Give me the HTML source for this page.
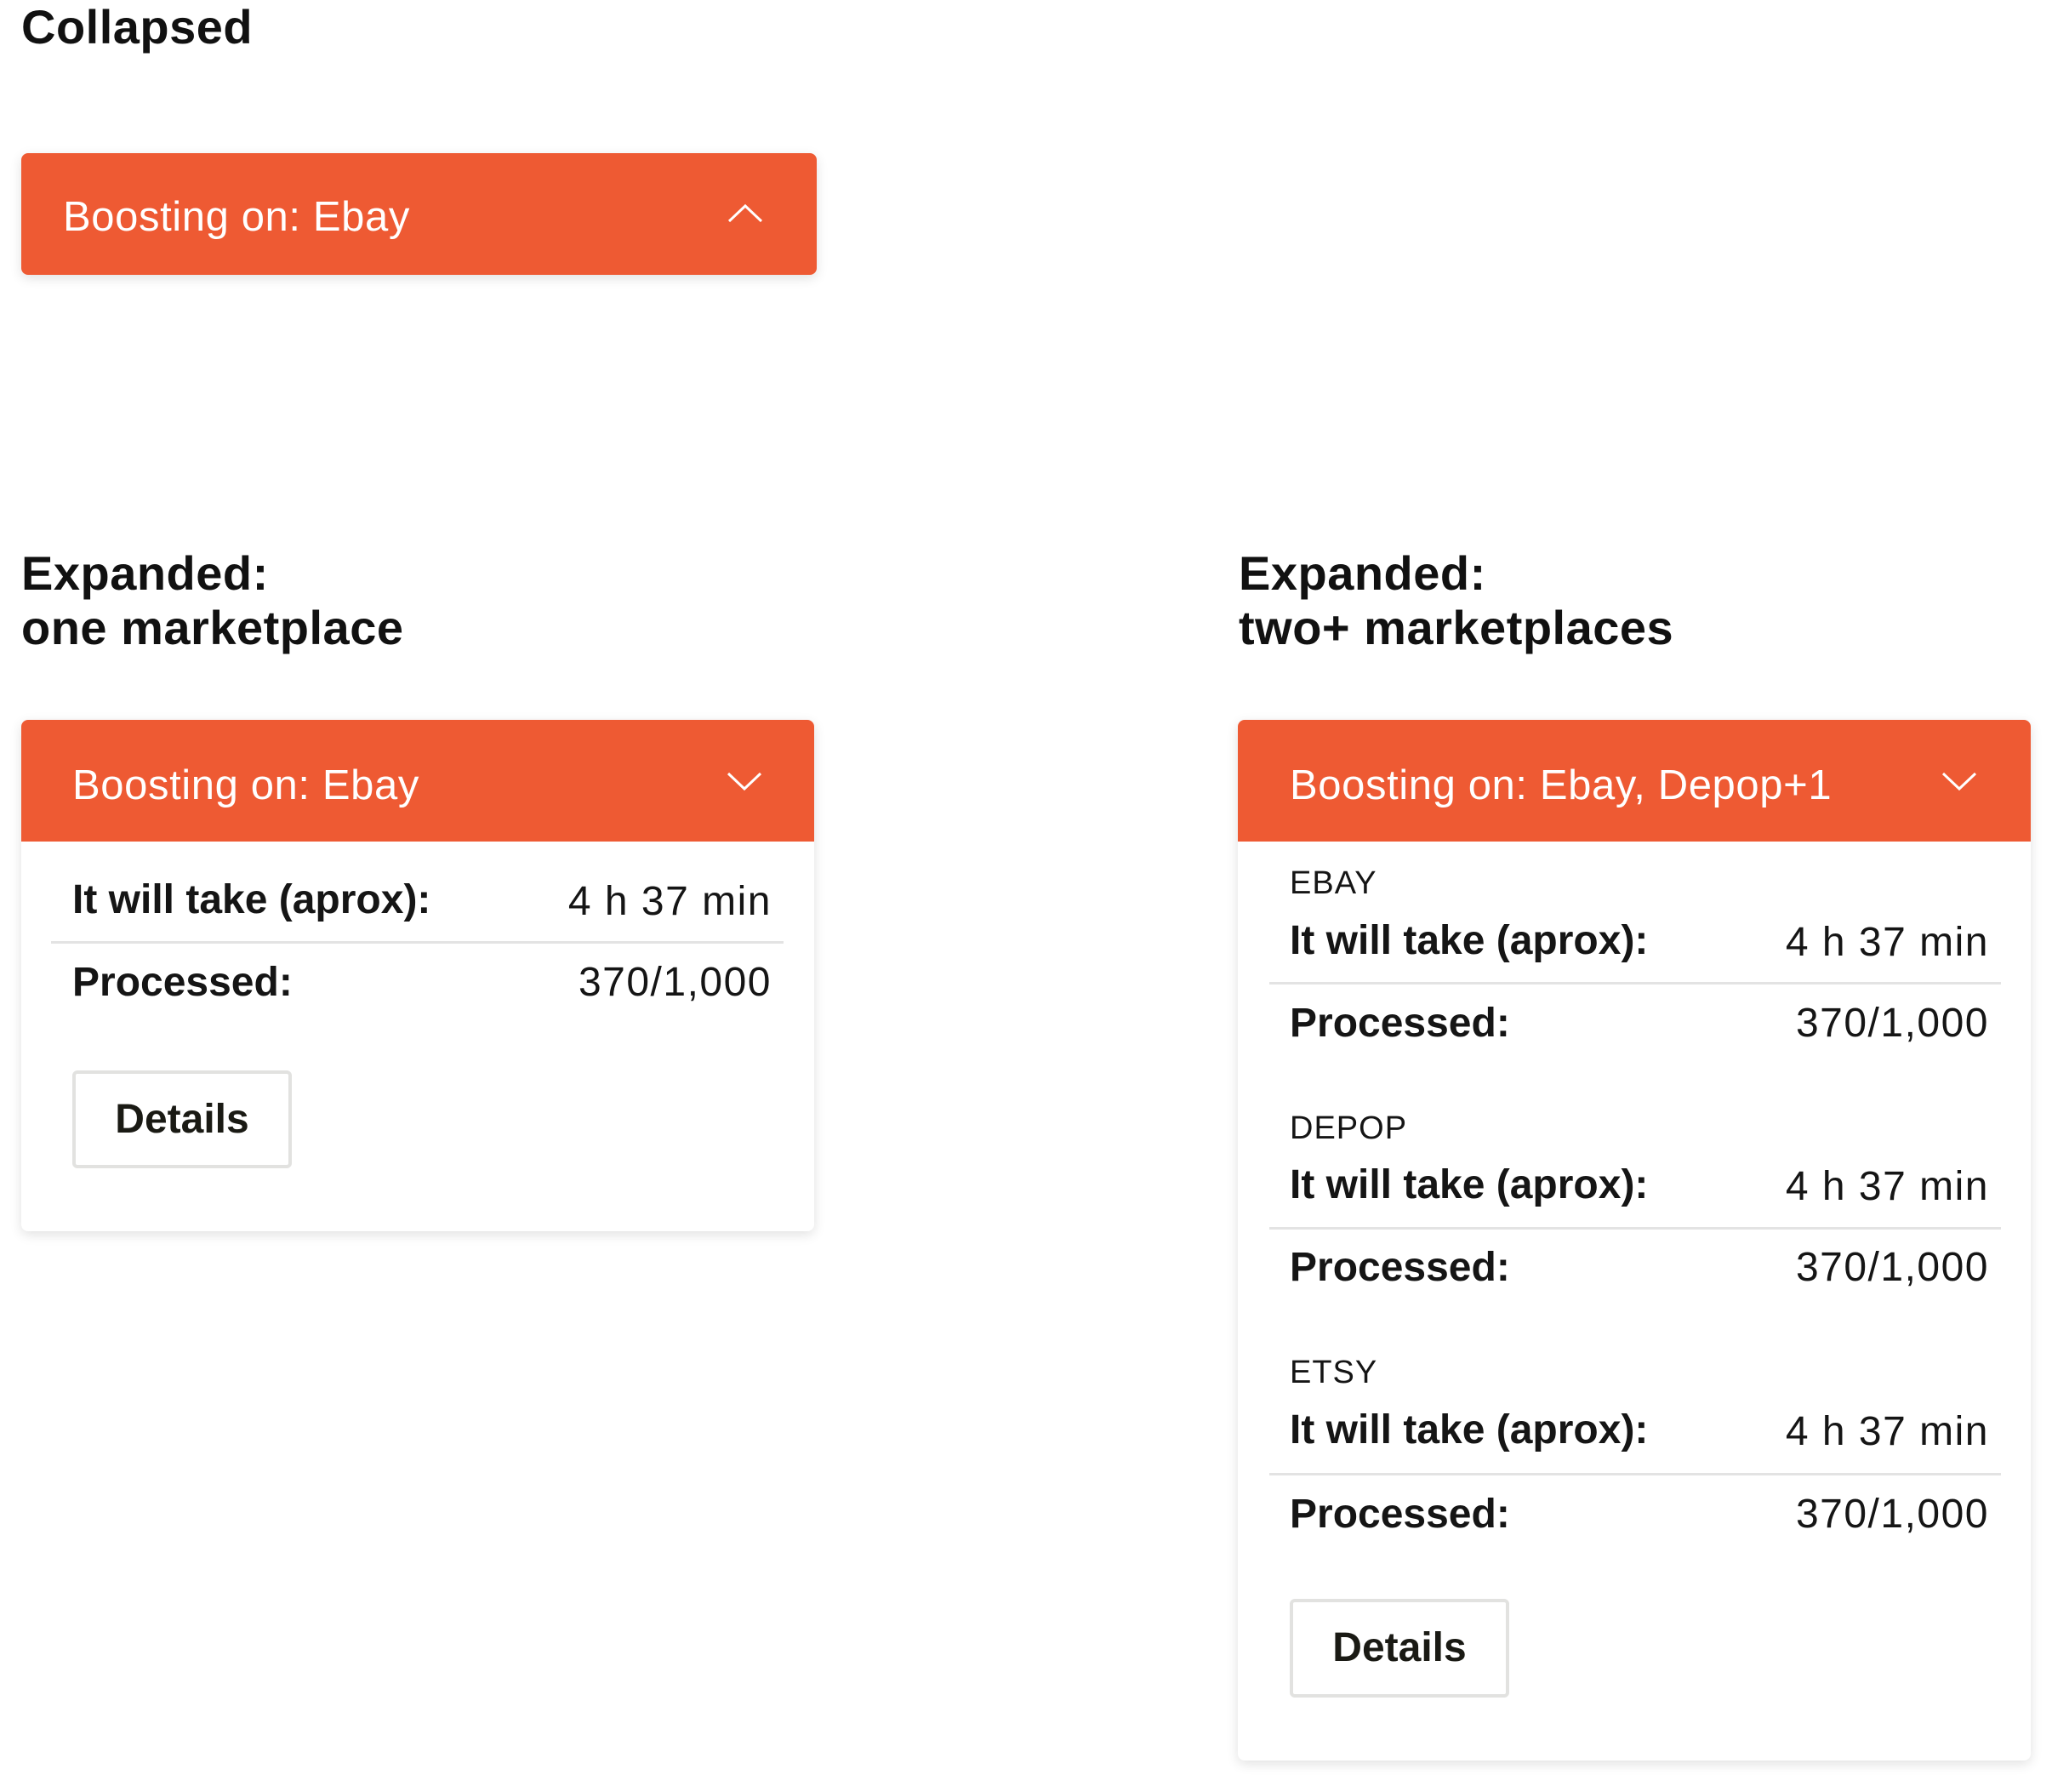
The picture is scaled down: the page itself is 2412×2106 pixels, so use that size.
<!DOCTYPE html>
<html><head><meta charset="utf-8"><style>
body{margin:0;width:2412px;height:2106px;background:#fff;position:relative;font-family:"Liberation Sans",sans-serif;overflow:hidden}
.a{position:absolute;white-space:nowrap}
.t{font-weight:bold;font-size:56px;line-height:64px;color:#111;letter-spacing:0.5px}
.card{position:absolute;background:#fff;border-radius:8px;box-shadow:0 4px 14px rgba(0,0,0,0.12);overflow:hidden}
.hd{position:absolute;left:0;right:0;top:0;height:143px;background:#EE5A33}
.ht{position:absolute;color:#fff;font-size:49px;line-height:60px;top:47px;letter-spacing:0.6px}
.chev{position:absolute;width:42px;height:24px}
.l{font-size:48px;line-height:60px;font-weight:bold;color:#151515}
.v{font-size:48px;line-height:60px;color:#151515;text-align:right;letter-spacing:1.5px}
.div{position:absolute;height:3px;background:#e3e3e3}
.lab{font-size:38px;line-height:46px;color:#151515;letter-spacing:1px}
.btn{position:absolute;border:4px solid #e2e2e0;border-radius:6px;box-sizing:border-box;font-size:48px;color:#1a1a14;text-align:center;font-weight:bold}
</style></head><body>
<div class="a t" style="left:25px;top:0px">Collapsed</div>

<div class="card" style="left:25px;top:180px;width:935px;height:143px">
 <div class="hd"></div>
 <div class="a ht" style="left:49px;top:45px">Boosting on: Ebay</div>
 <svg class="chev" style="left:830px;top:58px" viewBox="0 0 42 24"><polyline points="2,22 21,4 40,22" fill="none" stroke="#fff" stroke-width="3"/></svg>
</div>

<div class="a t" style="left:25px;top:642px">Expanded:<br>one marketplace</div>
<div class="a t" style="left:1456px;top:642px">Expanded:<br>two+ marketplaces</div>

<div class="card" style="left:25px;top:846px;width:932px;height:601px">
 <div class="hd"></div>
 <div class="a ht" style="left:60px">Boosting on: Ebay</div>
 <svg class="chev" style="left:829px;top:61px" viewBox="0 0 42 24"><polyline points="2,2 21,20 40,2" fill="none" stroke="#fff" stroke-width="3"/></svg>
 <div class="a l" style="left:60px;top:182px">It will take (aprox):</div>
 <div class="a v" style="right:50px;top:184px">4 h 37 min</div>
 <div class="div" style="left:35px;width:861px;top:260px"></div>
 <div class="a l" style="left:60px;top:279px">Processed:</div>
 <div class="a v" style="right:50px;top:279px">370/1,000</div>
 <div class="btn" style="left:60px;top:412px;width:258px;height:115px;line-height:107px">Details</div>
</div>

<div class="card" style="left:1455px;top:846px;width:932px;height:1223px">
 <div class="hd"></div>
 <div class="a ht" style="left:61px">Boosting on: Ebay, Depop+1</div>
 <svg class="chev" style="left:827px;top:61px" viewBox="0 0 42 24"><polyline points="2,2 21,20 40,2" fill="none" stroke="#fff" stroke-width="3"/></svg>

 <div class="a lab" style="left:61px;top:169px">EBAY</div>
 <div class="a l" style="left:61px;top:230px">It will take (aprox):</div>
 <div class="a v" style="right:49px;top:232px">4 h 37 min</div>
 <div class="div" style="left:37px;width:860px;top:308px"></div>
 <div class="a l" style="left:61px;top:327px">Processed:</div>
 <div class="a v" style="right:49px;top:327px">370/1,000</div>

 <div class="a lab" style="left:61px;top:457px">DEPOP</div>
 <div class="a l" style="left:61px;top:517px">It will take (aprox):</div>
 <div class="a v" style="right:49px;top:519px">4 h 37 min</div>
 <div class="div" style="left:37px;width:860px;top:596px"></div>
 <div class="a l" style="left:61px;top:614px">Processed:</div>
 <div class="a v" style="right:49px;top:614px">370/1,000</div>

 <div class="a lab" style="left:61px;top:744px">ETSY</div>
 <div class="a l" style="left:61px;top:805px">It will take (aprox):</div>
 <div class="a v" style="right:49px;top:807px">4 h 37 min</div>
 <div class="div" style="left:37px;width:860px;top:885px"></div>
 <div class="a l" style="left:61px;top:904px">Processed:</div>
 <div class="a v" style="right:49px;top:904px">370/1,000</div>

 <div class="btn" style="left:61px;top:1033px;width:258px;height:116px;line-height:108px">Details</div>
</div>
</body></html>
